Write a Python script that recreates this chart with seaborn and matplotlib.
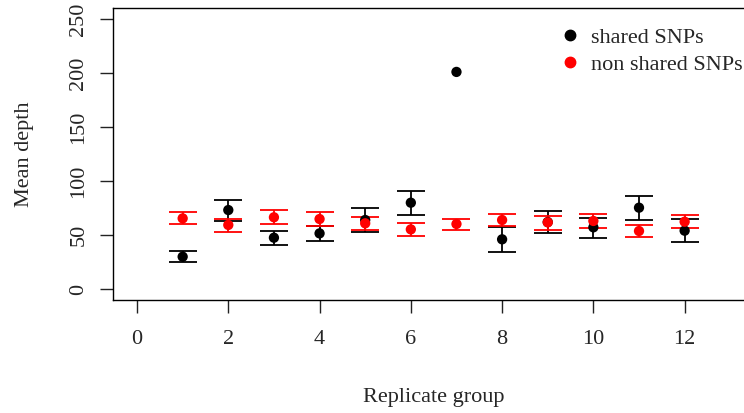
import numpy as np
import pandas as pd
import matplotlib
matplotlib.use("Agg")
import matplotlib.pyplot as plt
import seaborn as sns

groups = [1, 2, 3, 4, 5, 6, 7, 8, 9, 10, 11, 12]

shared_mean = [29.9, 73.1, 47.5, 51.5, 63.9, 79.9, 201.0, 46.0, 62.0, 57.1, 75.3, 54.0]
shared_lo   = [25.3, 63.3, 40.7, 44.4, 52.8, 68.5, np.nan, 34.0, 52.2, 46.9, 64.2, 43.8]
shared_hi   = [35.2, 82.7, 54.0, 58.6, 75.3, 91.0, np.nan, 57.7, 72.5, 65.7, 86.4, 64.5]

nonshared_mean = [65.4, 59.3, 66.4, 64.8, 60.8, 55.2, 60.2, 63.9, 61.7, 63.0, 53.7, 62.3]
nonshared_lo   = [59.9, 53.1, 59.9, 58.6, 54.6, 49.4, 54.6, 58.0, 54.6, 56.8, 48.1, 56.8]
nonshared_hi   = [71.0, 64.8, 73.1, 71.0, 67.0, 61.4, 65.1, 69.8, 67.6, 69.1, 59.3, 68.2]

x_ticks = [0, 2, 4, 6, 8, 10, 12]
y_ticks = [0, 50, 100, 150, 200, 250]
series_names = ["shared SNPs", "non shared SNPs"]
series_colors = ["black", "red"]

df = pd.concat([
    pd.DataFrame({"group": groups, "mean": shared_mean, "lo": shared_lo,
                  "hi": shared_hi, "type": series_names[0]}),
    pd.DataFrame({"group": groups, "mean": nonshared_mean, "lo": nonshared_lo,
                  "hi": nonshared_hi, "type": series_names[1]}),
])

sns.set_style("ticks")
plt.rcParams["font.family"] = ["Liberation Serif", "DejaVu Serif"]

W, H = 744, 413
FS = 16
fig = plt.figure(figsize=(W / 100, H / 100), dpi=100)
left_px, right_px, top_px, bot_px = 113.3, 754.0, 8.2, 299.8
ax = fig.add_axes([left_px / W, 1 - bot_px / H, (right_px - left_px) / W, (bot_px - top_px) / H])

for name, col in zip(series_names, series_colors):
    sub = df[df["type"] == name]
    valid = sub.dropna(subset=["lo", "hi"])
    ax.errorbar(valid["group"], valid["mean"],
                yerr=[valid["mean"] - valid["lo"], valid["hi"] - valid["mean"]],
                fmt="none", ecolor=col, elinewidth=1.3, capsize=10, capthick=1.3,
                zorder=2)
    sns.scatterplot(data=sub, x="group", y="mean", color=col, s=55,
                    edgecolor="none", ax=ax, zorder=3, legend=False)

ax.set_xlim(-0.52, 13.52)
ax.set_ylim(-10, 260)
ax.set_xticks(x_ticks)
ax.set_yticks(y_ticks)
ax.set_yticklabels([str(v) for v in y_ticks], rotation=90, va="center")
ax.tick_params(axis="both", length=9.5, width=1.0, labelsize=FS, color="#222222")
ax.tick_params(axis="x", pad=12)
ax.tick_params(axis="y", pad=8.5)
for s in ax.spines.values():
    s.set_linewidth(1.0)
    s.set_color("black")

ax.set_xlabel("Replicate group", fontsize=FS, labelpad=28)
ax.set_ylabel("Mean depth", fontsize=FS, labelpad=25.5)

handles = [plt.Line2D([], [], marker="o", linestyle="none", color=c, markersize=7.5)
           for c in series_colors]
leg = ax.legend(handles, series_names, loc="upper left",
                bbox_to_anchor=(559 / W, 1 - 27 / H), bbox_transform=fig.transFigure,
                frameon=False, fontsize=FS, handlelength=1.0, handletextpad=0.42,
                labelspacing=0.3, borderaxespad=0, borderpad=0)

fig.savefig("out.png", dpi=100)
